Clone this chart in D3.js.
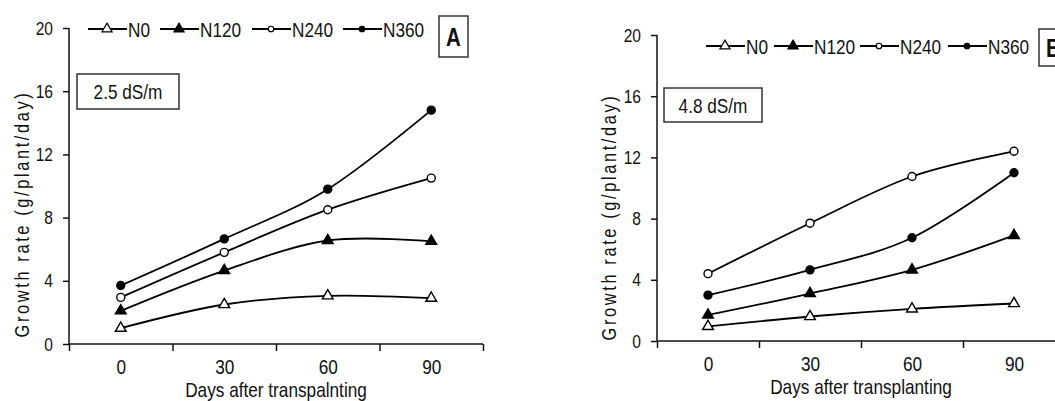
<!DOCTYPE html>
<html>
<head>
<meta charset="utf-8">
<script src="https://cdn.jsdelivr.net/npm/d3@7"></script>
<style>
  body { margin: 0; background: #fff; }
  svg text { font-family: "Liberation Sans", Arial, sans-serif; fill: #111; }
</style>
</head>
<body>
<div class="main"></div>
<script>
// data
const days = [0, 30, 60, 90];
const seriesNames = ["N0", "N120", "N240", "N360"];
const yTicks = [0, 4, 8, 12, 16, 20];

// panel A, 2.5 dS/m
const a_N0 = [1.0, 2.5, 3.05, 2.9];
const a_N120 = [2.1, 4.65, 6.55, 6.5];
const a_N240 = [2.95, 5.8, 8.5, 10.5];
const a_N360 = [3.7, 6.65, 9.8, 14.8];

// panel B, 4.8 dS/m
const b_N0 = [0.95, 1.6, 2.1, 2.45];
const b_N120 = [1.7, 3.1, 4.65, 6.9];
const b_N240 = [4.4, 7.7, 10.75, 12.4];
const b_N360 = [3.0, 4.65, 6.75, 11.0];

const markers = {
  N0: { shape: d3.symbolTriangle, fill: "#fff" },
  N120: { shape: d3.symbolTriangle, fill: "#000" },
  N240: { shape: d3.symbolCircle, fill: "#fff" },
  N360: { shape: d3.symbolCircle, fill: "#000" },
};

// the original uses a narrow font, squeeze Liberation Sans to look like it
const squeeze = 0.82;

const svg = d3
  .select(".main")
  .append("svg")
  .attr("width", 1055)
  .attr("height", 401);

function label(parent, x, y, str, size, anchor) {
  return parent
    .append("g")
    .attr("transform", "translate(" + x + "," + y + ")")
    .append("text")
    .attr("transform", "scale(" + squeeze + ",1)")
    .attr("dy", "0.36em")
    .attr("text-anchor", anchor || "middle")
    .style("font-size", size + "px")
    .text(str);
}

function drawPanel(p) {
  const g = svg.append("g");

  const x = d3.scaleLinear().domain([-15, 105]).range([p.left, p.right]);
  const y = d3.scaleLinear().domain([0, 20]).range([p.bottom, p.top]);

  // x axis: ticks at band edges, labels at the days
  const xa = g
    .append("g")
    .attr("transform", "translate(0," + p.bottom + ")")
    .call(d3.axisBottom(x).tickValues([-15, 15, 45, 75, 105]).tickSize(7).tickFormat(""));
  xa.select(".domain").attr("d", "M" + p.left + ",0H" + p.right);
  const xl = g
    .append("g")
    .attr("transform", "translate(0," + p.bottom + ")")
    .call(d3.axisBottom(x).tickValues(days).tickSize(0).tickPadding(15));
  xl.select(".domain").remove();
  xl.selectAll("text")
    .style("font-size", "21px")
    .attr("transform", "scale(" + squeeze + ",1)");

  const ya = g
    .append("g")
    .attr("transform", "translate(" + p.left + ",0)")
    .call(d3.axisLeft(y).tickValues(yTicks).tickSize(6));
  ya.select(".domain").attr("d", "M0," + p.top + "V" + p.bottom);
  ya.selectAll("text")
    .style("font-size", "19px")
    .attr("x", -16 / squeeze)
    .attr("transform", "scale(" + squeeze + ",1)");

  g.selectAll(".domain, .tick line").attr("stroke", "#111").attr("stroke-width", 1.5);

  // axis titles
  label(g, (p.left + p.xTitleRight) / 2, p.bottom + 45, p.xTitle, 21);

  g.append("text")
    .attr("transform", "translate(" + p.yTitleX + "," + p.yTitleY + ") rotate(-90) scale(" + squeeze + ",1)")
    .attr("dy", "0.35em")
    .attr("text-anchor", "middle")
    .style("font-size", "20px")
    .style("letter-spacing", "3.2px")
    .text("Growth rate (g/plant/day)");

  // lines
  const line = d3
    .line()
    .x((d, i) => x(days[i]))
    .y((d) => y(d))
    .curve(d3.curveCardinal.tension(0));

  p.series.forEach((vals) => {
    g.append("path")
      .attr("d", line(vals))
      .attr("fill", "none")
      .attr("stroke", "#000")
      .attr("stroke-width", 1.8);
  });

  p.series.forEach((vals, k) => {
    const m = markers[seriesNames[k]];
    g.append("g")
      .selectAll("path")
      .data(vals)
      .join("path")
      .attr("transform", (d, i) => "translate(" + x(days[i]) + "," + y(d) + ")")
      .attr("d", d3.symbol().type(m.shape).size(m.shape === d3.symbolTriangle ? 50 : 50))
      .attr("fill", m.fill)
      .attr("stroke", "#000")
      .attr("stroke-width", 1.4);
  });

  // legend
  const lg = g.append("g").attr("transform", "translate(0," + p.legendY + ")");
  seriesNames.forEach((name, k) => {
    const lx = p.legendX[k];
    lg.append("line")
      .attr("x1", lx)
      .attr("x2", lx + 39)
      .attr("stroke", "#000")
      .attr("stroke-width", 1.8);
    const m = markers[name];
    lg.append("path")
      .attr("transform", "translate(" + (lx + 19) + ",0)")
      .attr("d", d3.symbol().type(m.shape).size(m.shape === d3.symbolTriangle ? 45 : 24))
      .attr("fill", m.fill)
      .attr("stroke", "#000")
      .attr("stroke-width", 1.2);
    label(lg, lx + 40, 0, name, 21, "start");
  });

  // salinity box
  const sb = p.saltBox;
  g.append("rect")
    .attr("x", sb[0]).attr("y", sb[1]).attr("width", sb[2]).attr("height", sb[3])
    .attr("fill", "#fff").attr("stroke", "#333").attr("stroke-width", 1.5);
  label(g, sb[0] + sb[2] / 2, sb[1] + sb[3] / 2, p.salt, 21);

  // panel letter
  const lb = p.letterBox;
  g.append("rect")
    .attr("x", lb[0]).attr("y", lb[1]).attr("width", lb[2]).attr("height", lb[3])
    .attr("fill", "#fff").attr("stroke", "#333").attr("stroke-width", 1.5);
  label(g, lb[0] + 14.5, lb[1] + lb[3] / 2, p.letter, 25).style("font-weight", "bold");
}

drawPanel({
  left: 69, right: 483, top: 28, bottom: 344,
  series: [a_N0, a_N120, a_N240, a_N360],
  xTitle: "Days after transpalnting",
  xTitleRight: 483,
  yTitleX: 22, yTitleY: 214,
  legendY: 29, legendX: [88, 160, 252, 343],
  saltBox: [77, 74, 102, 35], salt: "2.5 dS/m",
  letterBox: [439, 16, 29, 41], letter: "A",
});

drawPanel({
  left: 657, right: 1065, top: 35, bottom: 341,
  series: [b_N0, b_N120, b_N240, b_N360],
  xTitle: "Days after transplanting",
  xTitleRight: 1065,
  yTitleX: 609, yTitleY: 217,
  legendY: 46, legendX: [706, 774, 860, 948],
  saltBox: [664, 88, 98, 34], salt: "4.8 dS/m",
  letterBox: [1039, 29, 29, 37], letter: "B",
});
</script>
</body>
</html>
